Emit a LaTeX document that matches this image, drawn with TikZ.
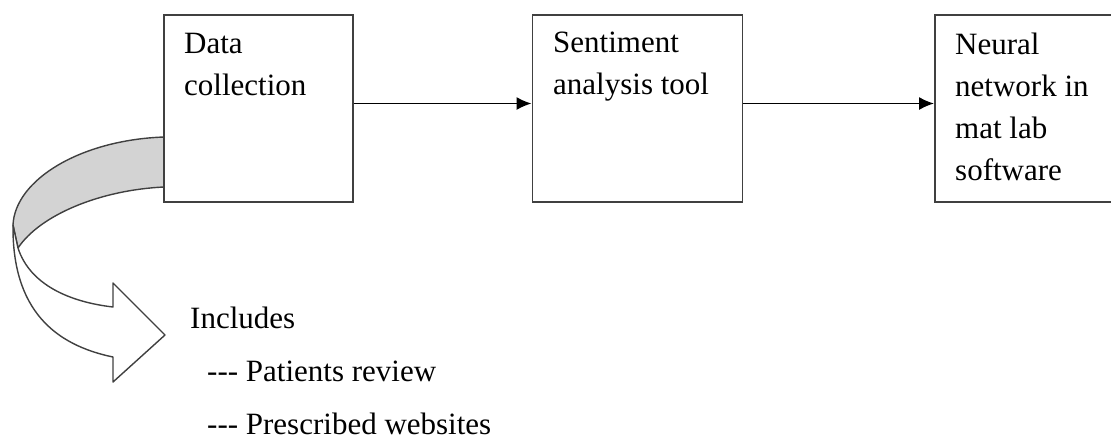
\documentclass[tikz,border=0pt]{standalone}
\usepackage{fontspec}
\setmainfont{Liberation Serif}
\usepackage{tikz}
\usetikzlibrary{arrows.meta,positioning,calc}
\definecolor{edgegray}{RGB}{64,64,64}
\definecolor{bandgray}{RGB}{211,211,211}
\newcommand{\hy}{\mbox{-}}
\tikzset{
  box/.style={rectangle,draw=edgegray,line width=1.8pt,fill=white,inner sep=0pt},
  txt/.style={align=left,inner sep=0pt,anchor=north west,
              font=\fontsize{31}{42}\selectfont},
  fl/.style={-{Latex[length=15pt,width=13pt]},draw=black,line width=1.8pt},
  band/.style={draw=edgegray,line width=1.4pt,line join=round},
}

\begin{document}
\begin{tikzpicture}[x=1pt,y=-1pt]
  \useasboundingbox (0,0) rectangle (1111,440);
  % curved arrow out of the data box
  \fill[bandgray] (164,137) .. controls (80,140) and (15,180) .. (13,225)
    -- (18,248) .. controls (40,215) and (100,190) .. (164,187) -- cycle;
  \draw[band] (164,137) .. controls (80,140) and (15,180) .. (13,225)
    -- (18,248) .. controls (40,215) and (100,190) .. (164,187);
  \draw[band,fill=white] (13,225) .. controls (12,310) and (55,345) .. (113,357)
    -- (113,382) -- (165,335) -- (113,283) -- (113,307)
    .. controls (70,302) and (30,285) .. (18,248) -- cycle;
  % boxes
  \node[box,minimum width=189pt,minimum height=187pt] (dc) at (258.5,108.5) {};
  \node[box,minimum width=210pt,minimum height=187pt] (sa) at (637.5,108.5) {};
  \node[box,minimum width=200pt,minimum height=187pt] (nn) at (1035,108.5) {};
  \node[txt] (dctxt) at (184,32.5) {Data\\collection};
  \node[txt] (satxt) at (553,32) {Sentiment\\analysis tool};
  \node[txt] (nntxt) at (955,32.5) {Neural\\network in\\mat lab\\software};
  % flow
  \draw[fl] ([yshift=5pt]dc.east) -- ([yshift=5pt]sa.west);
  \draw[fl] ([yshift=5pt]sa.east) -- ([yshift=5pt]nn.west);
  % what is collected
  \node[txt,font=\fontsize{31}{53}\selectfont] (inc) at (190,307)
    {Includes\\\hspace*{17pt}\hy\hy\hy{} Patients review\\\hspace*{17pt}\hy\hy\hy{} Prescribed websites};
\end{tikzpicture}
\end{document}
